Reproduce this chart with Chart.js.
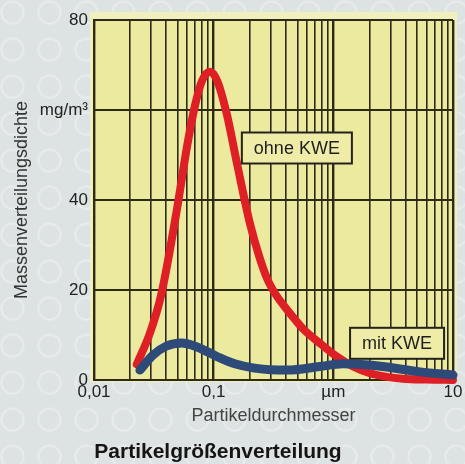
<!DOCTYPE html>
<html>
<head>
<meta charset="utf-8">
<script src="https://cdn.jsdelivr.net/npm/chart.js@4.4.1/dist/chart.umd.min.js"></script>
<style>
  html, body { margin: 0; padding: 0; }
  body {
    width: 465px; height: 464px; overflow: hidden;
    background-color: #dde3e2;
    background-image: radial-gradient(circle at 50% 45%, rgba(255,255,255,0) 9px, rgba(255,255,255,0.35) 11px, rgba(255,255,255,0) 13px);
    background-size: 37px 37px;
    background-position: -6px -4px;
  }
  canvas { display: block; }
</style>
</head>
<body>
<canvas id="chart" width="465" height="464"></canvas>
<script>
// particle diameter in µm, mass density in mg/m³
const ohneX = [0.0228, 0.0294, 0.0365, 0.0494, 0.06, 0.0698, 0.08, 0.093, 0.107, 0.129, 0.157, 0.2, 0.24, 0.28, 0.33, 0.4, 0.48, 0.557, 0.77, 1.07, 1.46, 2.02, 2.8, 3.8, 6, 10];
const ohneY = [3.5, 10.5, 19, 38, 52, 61, 66.5, 68.5, 66.5, 59, 48, 35, 27.5, 22.5, 19, 16, 13.4, 11.4, 8.2, 5.2, 3, 1.5, 0.7, 0.3, 0.1, 0];

const mitX = [0.0242, 0.031, 0.04, 0.054, 0.07, 0.09, 0.113, 0.15, 0.213, 0.3, 0.41, 0.77, 1.2, 1.6, 2.8, 5.3, 10];
const mitY = [2.2, 5.5, 7.5, 8.2, 7.5, 6.2, 4.9, 3.6, 2.7, 2.3, 2.2, 3.0, 3.6, 3.5, 2.9, 1.8, 1.1];

const xTickValues = [0.01, 0.1, 1, 10];
const xTickLabels = ['0,01', '0,1', 'µm', '10'];
const yTickValues = [0, 20, 40, 60, 80];
const yTickLabels = ['0', '20', '40', 'mg/m³', '80'];

const seriesNames = ['ohne KWE', 'mit KWE'];
// where the two name boxes sit (top-left corner, in axis units)
const boxAnchors = [{x: 0.172, y: 55}, {x: 1.38, y: 11.6}];

const FONT = "'Liberation Sans', Arial, sans-serif";
Chart.defaults.font.family = FONT;

// minor log grid 1..9 per decade
const gridValues = [];
for (let e = -2; e < 1; e++) {
  for (let m = 1; m < 10; m++) gridValues.push(+(m * Math.pow(10, e)).toPrecision(3));
}
gridValues.push(10);

const toPoints = (xs, ys) => xs.map((x, i) => ({x: x, y: ys[i]}));

const panel = {
  id: 'panel',
  beforeDraw(chart) {
    const {ctx, chartArea: a} = chart;
    ctx.save();
    ctx.fillStyle = '#f1efbd';
    ctx.fillRect(a.left - 4, a.top - 8, a.right - a.left + 8, a.bottom - a.top + 10);
    ctx.fillStyle = '#ecea9f';
    ctx.fillRect(a.left, a.top, a.right - a.left, a.bottom - a.top);
    ctx.restore();
  },
  afterDatasetsDraw(chart) {
    const {ctx} = chart;
    const xs = chart.scales.x, ys = chart.scales.y;
    ctx.save();
    ctx.font = '18px ' + FONT;
    seriesNames.forEach((name, i) => {
      const bx = xs.getPixelForValue(boxAnchors[i].x);
      const by = ys.getPixelForValue(boxAnchors[i].y);
      const w = ctx.measureText(name).width + 24;
      const h = 31;
      ctx.fillStyle = '#efeca8';
      ctx.fillRect(bx, by, w, h);
      ctx.strokeStyle = '#24221a';
      ctx.lineWidth = 2;
      ctx.strokeRect(bx, by, w, h);
      ctx.fillStyle = '#1e1e1e';
      ctx.textAlign = 'center';
      ctx.textBaseline = 'middle';
      ctx.fillText(name, bx + w / 2, by + h / 2 + 1);
    });
    ctx.restore();
  },
  afterDraw(chart) {
    const {ctx} = chart;
    ctx.save();
    ctx.font = 'bold 21px ' + FONT;
    ctx.fillStyle = '#151515';
    ctx.textAlign = 'center';
    ctx.textBaseline = 'middle';
    ctx.fillText('Partikelgrößenverteilung', 218, 452);
    ctx.restore();
  }
};

new Chart(document.getElementById('chart').getContext('2d'), {
  type: 'line',
  data: {
    datasets: [
      {
        label: seriesNames[0],
        data: toPoints(ohneX, ohneY),
        borderColor: '#de1f26',
        borderWidth: 8,
        borderCapStyle: 'round',
        borderJoinStyle: 'round',
        pointRadius: 0,
        cubicInterpolationMode: 'monotone',
        order: 2
      },
      {
        label: seriesNames[1],
        data: toPoints(mitX, mitY),
        borderColor: '#2e4a78',
        borderWidth: 9,
        borderCapStyle: 'round',
        borderJoinStyle: 'round',
        pointRadius: 0,
        cubicInterpolationMode: 'monotone',
        order: 1
      }
    ]
  },
  options: {
    responsive: false,
    animation: false,
    devicePixelRatio: 1,
    clip: false,
    layout: { padding: { top: 20, right: 12, left: 0, bottom: 0 } },
    plugins: { legend: { display: false }, tooltip: { enabled: false }, title: { display: false } },
    scales: {
      x: {
        type: 'logarithmic',
        min: 0.01,
        max: 10,
        afterBuildTicks(scale) { scale.ticks = gridValues.map(v => ({value: v})); },
        afterFit(scale) { scale.height = 84; },
        ticks: {
          autoSkip: false,
          maxRotation: 0,
          padding: 2,
          color: '#222',
          font: { size: 17 },
          callback(value) {
            const i = xTickValues.findIndex(t => Math.abs(t - value) < t * 1e-6);
            return i >= 0 ? xTickLabels[i] : '';
          }
        },
        grid: {
          drawTicks: false,
          color: '#2d2a18',
          lineWidth(ctx) {
            const v = ctx.tick ? ctx.tick.value : 0;
            return Math.abs(Math.log10(v) - Math.round(Math.log10(v))) < 1e-6 ? 2.4 : 1.6;
          }
        },
        border: { color: '#2d2a18', width: 2 },
        title: {
          display: true,
          text: 'Partikeldurchmesser',
          color: '#444',
          font: { size: 18 },
          padding: { top: 0, bottom: 37 }
        }
      },
      y: {
        min: 0,
        max: 80,
        afterBuildTicks(scale) { scale.ticks = yTickValues.map(v => ({value: v})); },
        afterFit(scale) { scale.width = 94; },
        ticks: {
          padding: 6,
          color: '#222',
          font: { size: 17 },
          callback(value) {
            const i = yTickValues.indexOf(value);
            return i >= 0 ? yTickLabels[i] : '';
          }
        },
        grid: { drawTicks: false, color: '#2d2a18', lineWidth: 2 },
        border: { color: '#2d2a18', width: 2 },
        title: {
          display: true,
          text: 'Massenverteilungsdichte',
          color: '#333',
          font: { size: 18 },
          padding: { top: 11, bottom: 0 }
        }
      }
    }
  },
  plugins: [panel]
});
</script>
</body>
</html>
